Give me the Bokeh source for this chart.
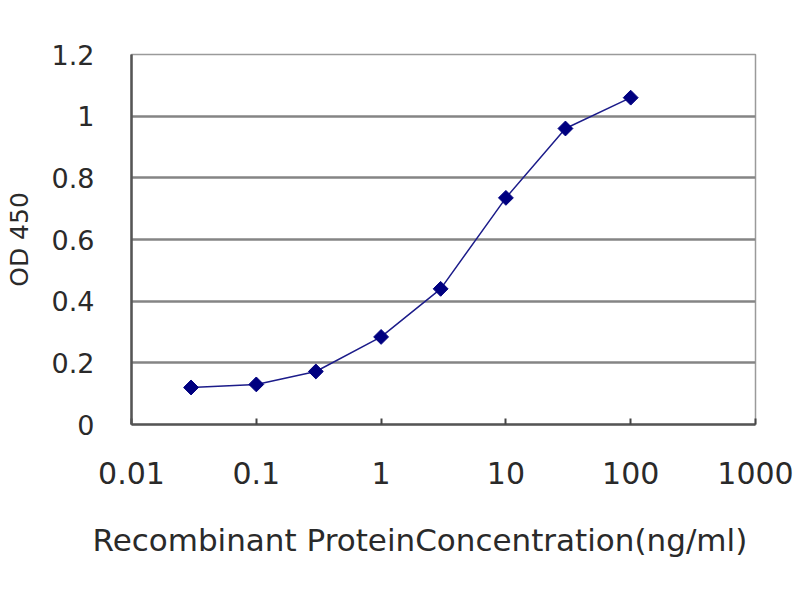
from bokeh.plotting import figure
from bokeh.models import FixedTicker, Title
from bokeh.embed import file_html
from bokeh.resources import INLINE

# concentration (ng/ml) and OD 450
conc = [0.03, 0.1, 0.3, 1, 3, 10, 30, 100]
od450 = [0.12, 0.13, 0.172, 0.284, 0.44, 0.735, 0.96, 1.06]

x_ticks = [0.01, 0.1, 1, 10, 100, 1000]
x_tick_labels = ["0.01", "0.1", "1", "10", "100", "1000"]
y_ticks = [0, 0.2, 0.4, 0.6, 0.8, 1.0, 1.2]
y_tick_labels = ["0", "0.2", "0.4", "0.6", "0.8", "1", "1.2"]

FONT = "DejaVu Sans"
TXT = "#2a2a2a"

p = figure(width=800, height=600, x_axis_type="log",
           x_range=(0.01, 1000), y_range=(0, 1.2),
           output_backend="svg", toolbar_location=None,
           min_border_left=131, min_border_right=45,
           min_border_top=54, min_border_bottom=176)

p.background_fill_color = "white"
p.border_fill_color = "white"
p.outline_line_color = "#9a9a9a"
p.outline_line_width = 1.5

# grid: only horizontal lines
p.xgrid.grid_line_color = None
p.ygrid.grid_line_color = "#858585"
p.ygrid.grid_line_width = 2.5
p.ygrid.ticker = FixedTicker(ticks=y_ticks)

# x axis
xa = p.xaxis[0]
xa.ticker = FixedTicker(ticks=x_ticks)
xa.major_label_overrides = dict(zip(x_ticks, x_tick_labels))
xa.axis_line_color = "#555555"
xa.axis_line_width = 2.5
xa.major_tick_line_color = "#444444"
xa.major_tick_line_width = 2
xa.major_tick_in = 6
xa.major_tick_out = 0
xa.minor_tick_line_color = None
xa.major_label_standoff = 37
xa.major_label_text_font = FONT
xa.major_label_text_font_size = "30px"
xa.major_label_text_color = TXT

# y axis
ya = p.yaxis[0]
ya.ticker = FixedTicker(ticks=y_ticks)
ya.major_label_overrides = dict(zip(y_ticks, y_tick_labels))
ya.axis_line_color = "#555555"
ya.axis_line_width = 2.5
ya.major_tick_line_color = None
ya.minor_tick_line_color = None
ya.major_label_standoff = 31
ya.major_label_text_font = FONT
ya.major_label_text_font_size = "27px"
ya.major_label_text_color = TXT
ya.axis_label = "OD 450"
ya.axis_label_text_font = FONT
ya.axis_label_text_font_size = "25px"
ya.axis_label_text_font_style = "normal"
ya.axis_label_text_color = TXT
ya.axis_label_standoff = 15

# x title: sits a little left of centre in the original
p.add_layout(Title(text="Recombinant ProteinConcentration(ng/ml)",
                   align="left", offset=-39, standoff=66,
                   text_font=FONT, text_font_size="31px",
                   text_font_style="normal", text_color=TXT), "below")

p.line(conc, od450, line_color="#1c1c8a", line_width=1.5)
p.scatter(conc, od450, marker="square", angle=0.785, size=10.5,
          color="#000080")

open("out.html", "w").write(file_html(p, INLINE))
